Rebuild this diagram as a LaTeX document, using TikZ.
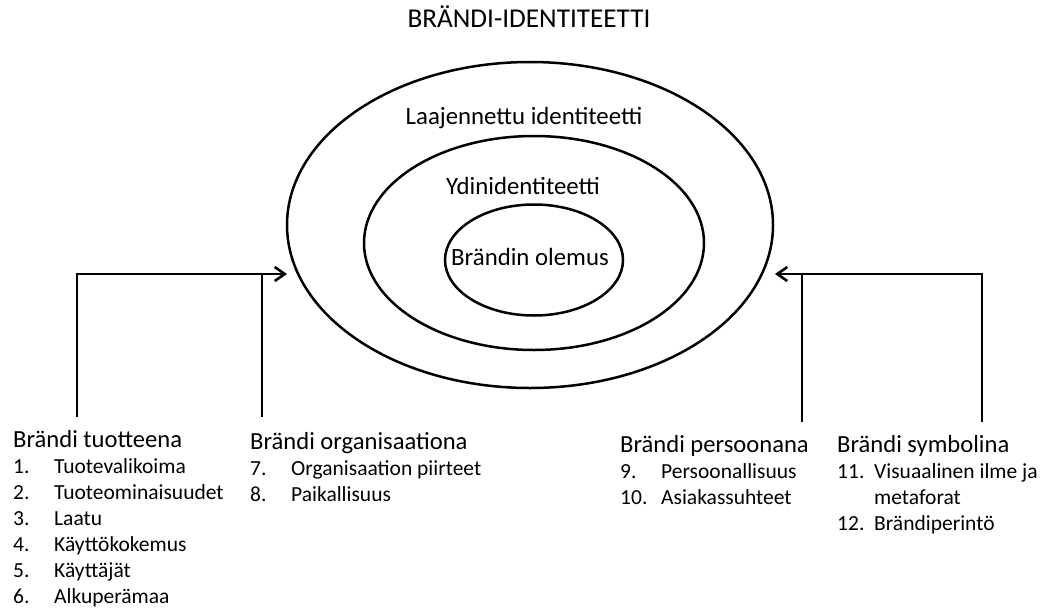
\documentclass[tikz,border=0pt]{standalone}
\usepackage{fontspec}
\setmainfont{Carlito}
\usetikzlibrary{shapes.geometric,arrows.meta}
\newcommand{\itm}[2]{{\fontsize{21.5}{26}\selectfont\makebox[41pt][l]{#1}#2}}
\newcommand{\itmb}[2]{{\fontsize{21.5}{26}\selectfont\makebox[37pt][l]{#1}#2}}
\begin{document}
\begin{tikzpicture}[x=1pt,y=-1pt,
  ring/.style={draw,ellipse,line width=2.5pt,inner sep=0pt},
  lbl/.style={inner sep=0pt,font=\fontsize{24.8}{26}\selectfont},
  grp/.style={inner sep=0pt,anchor=base west,font=\fontsize{24.6}{26}\selectfont},
  line/.style={line width=2.6pt},
  conn/.style={line width=2.6pt,-{Straight Barb[length=10pt,width=14pt,line width=2.6pt]}}]
\useasboundingbox (0,0) rectangle (1051,610);
\node[inner sep=0pt,anchor=base,font=\fontsize{27.2}{30}\selectfont] (title) at (529,28) {BRÄNDI-IDENTITEETTI};
\node[ring,minimum width=486pt,minimum height=326pt] (outer) at (530,225) {};
\node[ring,minimum width=340pt,minimum height=214pt] (middle) at (534,243) {};
\node[ring,minimum width=178pt,minimum height=111pt] (inner) at (534,260) {};
\node[lbl] (laaj) at (524,118) {Laajennettu identiteetti};
\node[lbl] (ydin) at (523,186) {Ydinidentiteetti};
\node[lbl] (olemus) at (530,257) {Brändin olemus};
\node[grp] (tuote) at (13,447) {\begin{tabular}[t]{@{}l@{}}Brändi tuotteena\\
  \itm{1.}{Tuotevalikoima}\\
  \itm{2.}{Tuoteominaisuudet}\\
  \itm{3.}{Laatu}\\
  \itm{4.}{Käyttökokemus}\\
  \itm{5.}{Käyttäjät}\\
  \itm{6.}{Alkuperämaa}\end{tabular}};
\node[grp] (org) at (250,449) {\begin{tabular}[t]{@{}l@{}}Brändi organisaationa\\
  \itm{7.}{Organisaation piirteet}\\
  \itm{8.}{Paikallisuus}\end{tabular}};
\node[grp] (pers) at (620,452) {\begin{tabular}[t]{@{}l@{}}Brändi persoonana\\
  \itm{9.}{Persoonallisuus}\\
  \itm{10.}{Asiakassuhteet}\end{tabular}};
\node[grp] (symb) at (837,452) {\begin{tabular}[t]{@{}l@{}}Brändi symbolina\\
  \itmb{11.}{Visuaalinen ilme ja}\\
  \itmb{}{metaforat}\\
  \itmb{12.}{Brändiperintö}\end{tabular}};
\coordinate (tipL) at (287,274);
\coordinate (tipR) at (775,274);
\coordinate (b1) at (77,417);
\coordinate (b2) at (262,417);
\coordinate (b3) at (802,422);
\coordinate (b4) at (982,422);
\draw[conn] (b1) |- (tipL);
\draw[line] (b2) -- (b2 |- tipL);
\draw[conn] (b4) |- (tipR);
\draw[line] (b3) -- (b3 |- tipR);
\end{tikzpicture}
\end{document}
